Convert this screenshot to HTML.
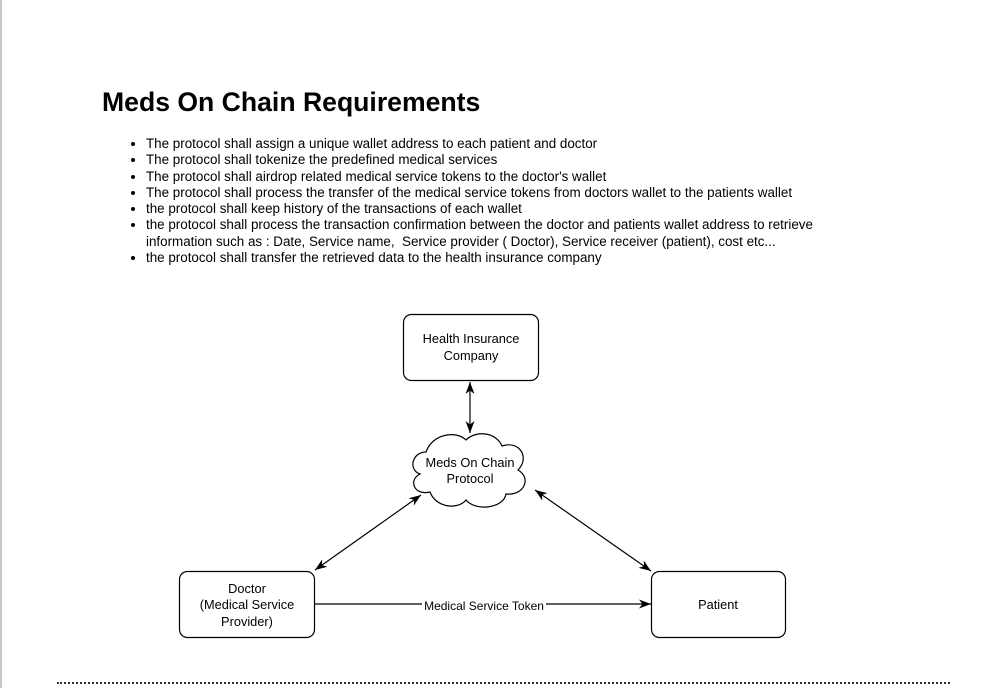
<!DOCTYPE html>
<html><head><meta charset="utf-8"><style>
html,body{margin:0;padding:0;background:#fff;}
body{width:990px;height:688px;position:relative;overflow:hidden;font-family:"Liberation Sans",Arial,sans-serif;}
.lb{position:absolute;left:0;top:0;width:2px;height:688px;background:#c8c8c8;}
h1{position:absolute;left:102px;top:87px;margin:0;font-size:26.6px;font-weight:bold;color:#000;line-height:30px;}
ul{position:absolute;left:128px;top:136px;margin:0;padding:0 0 0 18px;font-size:13.4px;line-height:16.3px;color:#000;width:690px;}
li{margin:0;}
.dots{position:absolute;left:57px;top:682px;width:893px;height:0;border-top:2px dotted #333;}
svg{position:absolute;left:0;top:0;}
</style></head><body>
<div class="lb"></div>
<h1>Meds On Chain Requirements</h1>
<ul>
<li>The protocol shall assign a unique wallet address to each patient and doctor</li>
<li>The protocol shall tokenize the predefined medical services</li>
<li>The protocol shall airdrop related medical service tokens to the doctor's wallet</li>
<li>The protocol shall process the transfer of the medical service tokens from doctors wallet to the patients wallet</li>
<li>the protocol shall keep history of the transactions of each wallet</li>
<li>the protocol shall process the transaction confirmation between the doctor and patients wallet address to retrieve information such as : Date, Service name,&nbsp; Service provider ( Doctor), Service receiver (patient), cost etc...</li>
<li>the protocol shall transfer the retrieved data to the health insurance company</li>
</ul>
<svg width="990" height="688" font-family="Liberation Sans, Arial, sans-serif" font-size="12.8">
<defs><marker id="a" markerWidth="13" markerHeight="13" refX="12" refY="6.5" orient="auto-start-reverse" markerUnits="userSpaceOnUse"><path d="M0,2 L12,6.5 L0,11 L3.5,6.5 z" fill="#000"/></marker></defs>
<g fill="#fff" stroke="#000" stroke-width="1.2">
<rect x="403.5" y="314.5" width="135" height="66" rx="8"/>
<rect x="179.5" y="571.5" width="135" height="66" rx="8"/>
<rect x="651.5" y="571.5" width="134" height="66" rx="8"/>
<path d="M426,452 C412,452 408,470 420,474 C408,480 414,496 430,492 C436,508 458,510 466,500 C476,512 504,508 506,494 C524,496 532,478 518,470 C530,458 520,440 502,446 C496,432 476,430 466,440 C456,430 432,434 426,452 Z"/>
</g>
<g stroke="#000" stroke-width="1.2" fill="none">
<line x1="470" y1="382" x2="470" y2="433" marker-start="url(#a)" marker-end="url(#a)"/>
<line x1="315" y1="570" x2="421" y2="495" marker-start="url(#a)" marker-end="url(#a)"/>
<line x1="535" y1="490" x2="651" y2="571" marker-start="url(#a)" marker-end="url(#a)"/>
<line x1="315" y1="604" x2="651" y2="604" marker-end="url(#a)"/>
</g>
<rect x="422" y="598" width="124" height="13" fill="#fff"/>
<g fill="#000" text-anchor="middle">
<text x="471" y="343">Health Insurance</text>
<text x="471" y="360">Company</text>
<text x="470" y="467">Meds On Chain</text>
<text x="470" y="483">Protocol</text>
<text x="247" y="593">Doctor</text>
<text x="247" y="609">(Medical Service</text>
<text x="247" y="626">Provider)</text>
<text x="718" y="609">Patient</text>
<text x="484" y="610" font-size="12">Medical Service Token</text>
</g>
</svg>
<div class="dots"></div>
</body></html>
